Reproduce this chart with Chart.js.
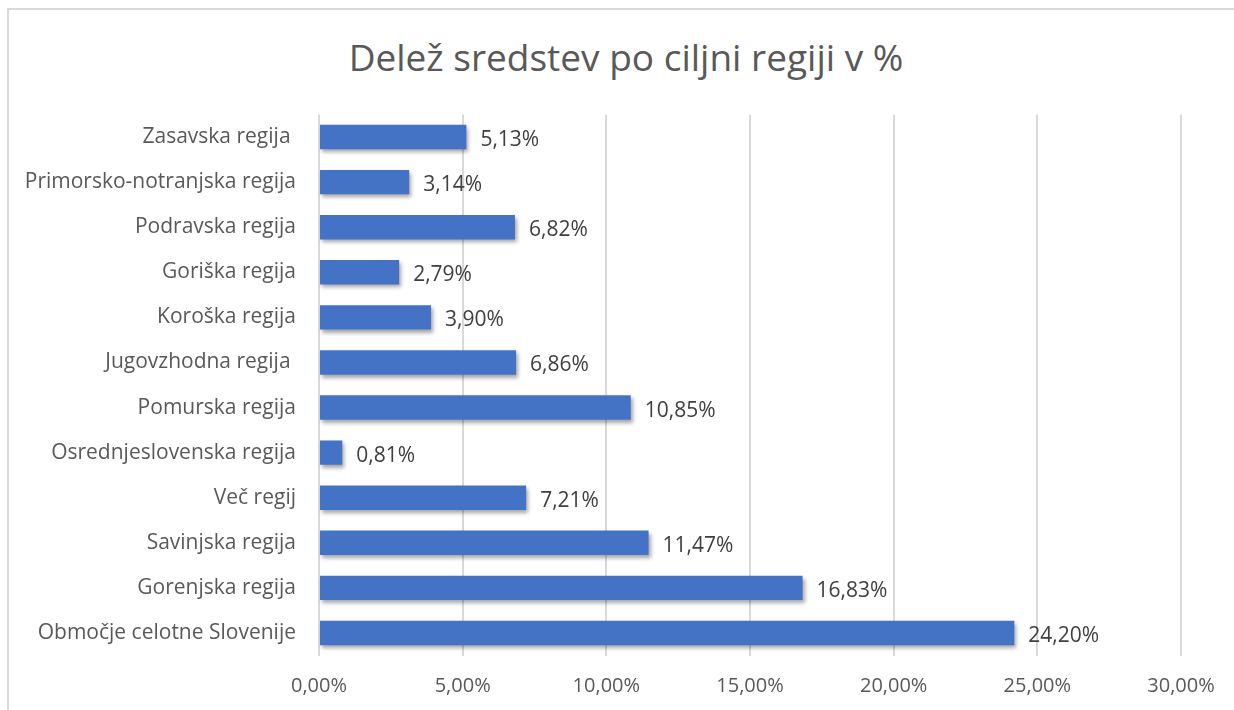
<!DOCTYPE html>
<html>
<head>
<meta charset="utf-8">
<script src="https://cdn.jsdelivr.net/npm/chart.js@4.4.1/dist/chart.umd.min.js"></script>
<style>
  html, body { margin: 0; padding: 0; background: #ffffff; }
  #wrap { position: relative; width: 1234px; height: 710px; overflow: hidden; }
  #frame { position: absolute; left: 7px; top: 8px; right: -5px; bottom: -5px;
           border-left: 2px solid #d9d9d9; border-top: 2px solid #d9d9d9; }
  #title { position: absolute; left: 0; width: 1252px; top: 31px; text-align: center;
           font-family: 'Open Sans', sans-serif; font-size: 37px; color: #595959;
           line-height: 52px; white-space: nowrap; }
  canvas { position: absolute; left: 0; top: 0; }
</style>
</head>
<body>
<div id="wrap">
  <div id="frame"></div>
  <div id="title"></div>
  <canvas id="c" width="1234" height="710"></canvas>
</div>
<script>
const titleText = "Delež sredstev po ciljni regiji v %";
const categories = [
  "Zasavska regija ",
  "Primorsko-notranjska regija",
  "Podravska regija",
  "Goriška regija",
  "Koroška regija",
  "Jugovzhodna regija ",
  "Pomurska regija",
  "Osrednjeslovenska regija",
  "Več regij",
  "Savinjska regija",
  "Gorenjska regija",
  "Območje celotne Slovenije"
];
const shares = [5.13, 3.14, 6.82, 2.79, 3.90, 6.86, 10.85, 0.81, 7.21, 11.47, 16.83, 24.20];
const xTickMin = 0, xTickMax = 30, xTickStep = 5;

document.getElementById('title').textContent = titleText;

const FONT = "'Open Sans', sans-serif";
const fmt = v => v.toFixed(2).replace('.', ',') + '%';

const shadowPlugin = {
  id: 'barShadow',
  beforeDatasetsDraw(chart) {
    const ctx = chart.ctx;
    ctx.save();
    ctx.shadowColor = 'rgba(0,0,0,0.35)';
    ctx.shadowBlur = 4;
    ctx.shadowOffsetX = 2;
    ctx.shadowOffsetY = 3;
  },
  afterDatasetsDraw(chart) {
    chart.ctx.restore();
    const ctx = chart.ctx;
    ctx.save();
    ctx.font = "21px " + FONT;
    ctx.fillStyle = '#404040';
    ctx.textAlign = 'left';
    ctx.textBaseline = 'middle';
    const meta = chart.getDatasetMeta(0);
    meta.data.forEach((bar, i) => {
      ctx.fillText(fmt(shares[i]), bar.x + 14, bar.y + 3);
    });
    ctx.restore();
  }
};

function barFill(context) {
  const chart = context.chart;
  const el = context.element;
  if (!el || !chart.chartArea) return '#4472c4';
  const y = el.y, h = el.height;
  if (!Number.isFinite(y) || !Number.isFinite(h) || h <= 0) return '#4472c4';
  const g = chart.ctx.createLinearGradient(0, y - h / 2, 0, y + h / 2);
  g.addColorStop(0, '#5a86d4');
  g.addColorStop(0.5, '#4672c6');
  g.addColorStop(1, '#3560b9');
  return g;
}

new Chart(document.getElementById('c'), {
  type: 'bar',
  data: {
    labels: categories,
    datasets: [{
      data: shares,
      backgroundColor: barFill,
      borderWidth: 0,
      barPercentage: 0.54,
      categoryPercentage: 1.0
    }]
  },
  plugins: [shadowPlugin],
  options: {
    indexAxis: 'y',
    responsive: false,
    animation: false,
    layout: { padding: { top: 114.5, right: 53, bottom: 0, left: 0 } },
    plugins: {
      legend: { display: false },
      tooltip: { enabled: false },
      title: { display: false }
    },
    scales: {
      x: {
        min: xTickMin, max: xTickMax,
        ticks: {
          stepSize: xTickStep,
          callback: v => fmt(v),
          color: '#595959',
          font: { family: FONT, size: 20 },
          padding: 19
        },
        grid: { color: '#d9d9d9', lineWidth: 2, drawTicks: false },
        border: { display: false },
        afterFit(scale) { scale.height = 54.5; }
      },
      y: {
        ticks: {
          color: '#595959',
          font: { family: FONT, size: 21 },
          padding: 23,
          autoSkip: false
        },
        grid: { display: false, drawTicks: false },
        border: { display: false },
        afterFit(scale) { scale.width = 319; }
      }
    }
  }
});
</script>
</body>
</html>
